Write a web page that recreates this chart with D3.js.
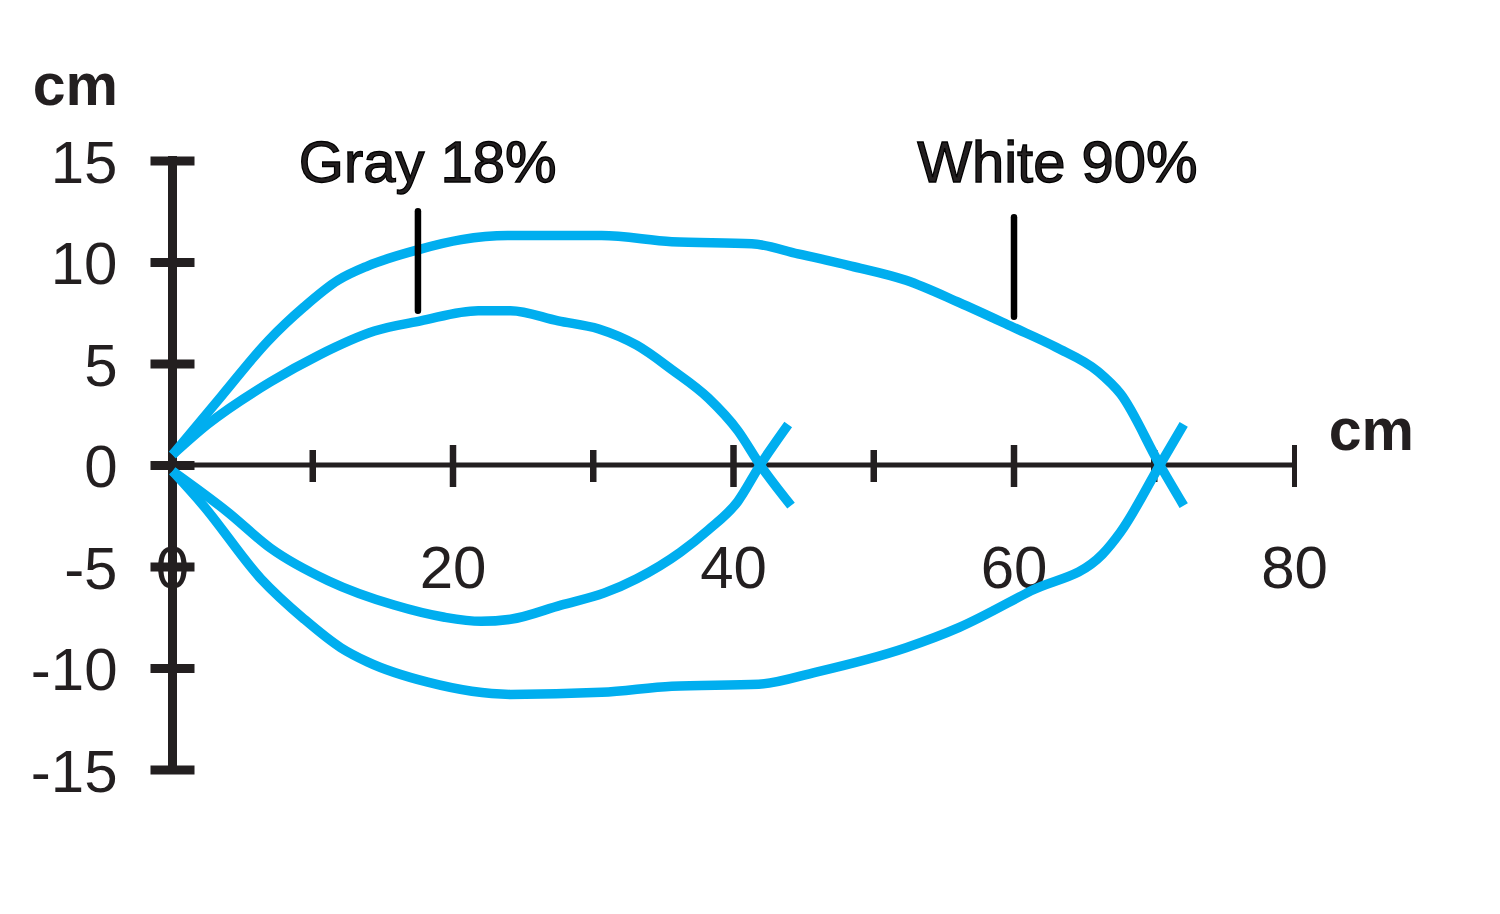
<!DOCTYPE html>
<html>
<head>
<meta charset="utf-8">
<script src="https://cdn.jsdelivr.net/npm/d3@7"></script>
<style>
  html, body { margin: 0; padding: 0; background: #fff; }
  svg { display: block; }
  text { font-family: "Liberation Sans", Arial, Helvetica, sans-serif; fill: #231f20; }
</style>
</head>
<body>
<script>
// ---- data ----
const xTicks = [0, 10, 20, 30, 40, 50, 60, 70, 80];
const xLabelTicks = [0, 20, 40, 60, 80];
const xMajorTicks = [20, 40, 60, 80];
const yTicks = [15, 10, 5, 0, -5, -10, -15];

const whiteUpper = [[0,0.5],[3.5,3.4],[6.8,6.1],[9.4,7.8],[11.8,9.1],[13.9,9.8],[17.5,10.6],[20.6,11.1],[23.9,11.3],[30.6,11.3],[35.6,11.0],[41.3,10.9],[44.6,10.4],[48.4,9.8],[52.3,9.1],[56.1,8.0],[59.9,6.8],[63.0,5.8],[66.0,4.6],[67.6,3.5],[70.4,0],[72.1,-2.0]];
const whiteLower = [[0,-0.3],[2.2,-2.0],[6.3,-5.6],[9.4,-7.6],[12.0,-9.0],[13.9,-9.7],[18.2,-10.7],[24.1,-11.3],[30.6,-11.2],[35.6,-10.9],[41.8,-10.8],[45.9,-10.2],[52.3,-9.0],[56.1,-8.0],[61.2,-6.2],[66.3,-4.4],[67.6,-3.3],[70.4,0],[72.1,2.0]];
const grayUpper = [[0,0.5],[2.5,2.0],[7.0,4.1],[10.4,5.4],[14.4,6.6],[17.7,7.1],[21.8,7.6],[24.1,7.6],[27.5,7.1],[30.4,6.7],[33.1,5.9],[35.6,4.7],[38.2,3.3],[40.3,1.7],[41.9,0],[44.1,-2.0]];
const grayLower = [[0,-0.3],[3.9,-2.3],[7.0,-4.1],[11.1,-5.7],[15.8,-6.9],[19.4,-7.5],[22.0,-7.7],[24.1,-7.6],[27.7,-6.9],[30.8,-6.3],[33.1,-5.6],[36.2,-4.3],[38.2,-3.2],[40.3,-1.8],[41.9,0],[43.9,2.0]];

const annotations = [
  { label: "Gray 18%",  x: 17.5, labelX: 18.2, yTop: 12.5, yBottom: 7.6 },
  { label: "White 90%", x: 60,   labelX: 63.1, yTop: 12.2, yBottom: 7.3 }
];
const unitLabel = "cm";

// ---- layout ----
const W = 1500, H = 914;
const svg = d3.select("body").append("svg").attr("width", W).attr("height", H);

const x = d3.scaleLinear().domain([0, 80]).range([172.5, 1294.5]);
const y = d3.scaleLinear().domain([-15, 15]).range([769.5, 160.5]);

const ink = "#231f20";
const blue = "#00aeef";
const fmt = d => String(d);

// y axis
const yAxis = svg.append("g").attr("transform", `translate(${x(0)},0)`)
  .call(d3.axisLeft(y).tickValues(yTicks).tickSize(0).tickPadding(55).tickFormat(fmt));
yAxis.select(".domain").remove();
yAxis.append("line").attr("x1", 0).attr("x2", 0).attr("y1", y(15) - 4.5).attr("y2", y(-15) + 4.5)
  .attr("stroke", ink).attr("stroke-width", 9);
yAxis.selectAll(".tick").append("line").attr("x1", -22).attr("x2", 22)
  .attr("stroke", ink).attr("stroke-width", 9);
yAxis.selectAll(".tick text").attr("font-size", 60).attr("fill", ink)
  .style("font-family", '"Liberation Sans", Arial, sans-serif').attr("dy", "0.36em");

// x axis
const xAxis = svg.append("g").attr("transform", `translate(0,${y(0)})`);
xAxis.append("line").attr("x1", x(0)).attr("x2", x(80)).attr("stroke", ink).attr("stroke-width", 5);
xAxis.selectAll("line.tk").data(xTicks.filter(d => d > 0)).join("line").attr("class", "tk")
  .attr("x1", d => x(d)).attr("x2", d => x(d))
  .attr("y1", d => xMajorTicks.includes(d) ? -20 : -15)
  .attr("y2", d => xMajorTicks.includes(d) ? 22 : 17)
  .attr("stroke", ink).attr("stroke-width", d => d === 80 ? 5 : 6.5);
xAxis.selectAll("text.tl").data(xLabelTicks).join("text").attr("class", "tl")
  .attr("x", d => x(d)).attr("y", 123).attr("text-anchor", "middle")
  .attr("font-size", 60).text(fmt);

// unit labels
svg.append("text").attr("x", 118).attr("y", 105).attr("text-anchor", "end")
  .attr("font-size", 59).attr("font-weight", "bold").text(unitLabel);
svg.append("text").attr("x", 1414).attr("y", 450).attr("text-anchor", "end")
  .attr("font-size", 59).attr("font-weight", "bold").text(unitLabel);

// curves
const line = d3.line().x(d => x(d[0])).y(d => y(d[1])).curve(d3.curveMonotoneX);
[whiteUpper, whiteLower, grayUpper, grayLower].forEach(s => {
  svg.append("path").datum(s).attr("d", line).attr("fill", "none")
    .attr("stroke", blue).attr("stroke-width", 9.5).attr("stroke-linejoin", "round");
});

// annotations
annotations.forEach(a => {
  svg.append("line").attr("x1", x(a.x)).attr("x2", x(a.x))
    .attr("y1", y(a.yTop)).attr("y2", y(a.yBottom))
    .attr("stroke", "#000").attr("stroke-width", 6.5).attr("stroke-linecap", "round");
  svg.append("text").attr("x", x(a.labelX)).attr("y", 182).attr("text-anchor", "middle")
    .attr("font-size", 58).attr("fill", "#000").attr("stroke", "#000").attr("stroke-width", 1.3)
    .text(a.label);
});
</script>
</body>
</html>
